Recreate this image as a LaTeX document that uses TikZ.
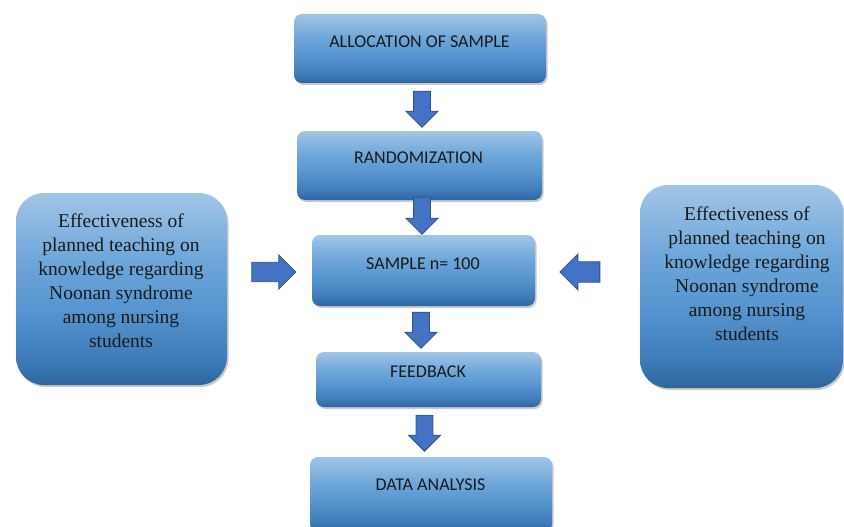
\documentclass[tikz,border=0pt]{standalone}
\usepackage{fontspec}
\setmainfont{Liberation Serif}
\newfontfamily\boxfont{Carlito}
\usetikzlibrary{shapes.arrows,shadows,positioning}
\definecolor{gA}{HTML}{A2C5E7}
\definecolor{gB}{HTML}{6FA7DA}
\definecolor{gC}{HTML}{5795D0}
\definecolor{gD}{HTML}{3F7CB9}
\definecolor{gE}{HTML}{2D659E}
\definecolor{arrfill}{HTML}{4472C4}
\definecolor{arrline}{HTML}{2F528F}
\definecolor{txt}{HTML}{1A1A1A}
\pgfdeclareverticalshading{boxshade}{100bp}{color(0bp)=(gE); color(25bp)=(gE); color(32bp)=(gD); color(45bp)=(gC); color(58bp)=(gB); color(75bp)=(gA); color(100bp)=(gA)}
\tikzset{
  gbox/.style={rounded corners=8pt, shading=boxshade,
    draw=none, drop shadow={shadow xshift=1.5pt, shadow yshift=-2pt, opacity=0.35, fill=black!60}},
  sidebox/.style={gbox, rounded corners=28pt},
  boxtext/.style={font=\boxfont\fontsize{18}{21}\selectfont, text=txt, inner sep=0pt},
  sidetext/.style={font=\fontsize{19.5}{24}\selectfont, text=txt, align=center, inner sep=0pt},
  blockarrow/.style={single arrow, fill=arrfill, draw=arrline, line width=0.8pt,
    single arrow tip angle=90, inner sep=0pt, minimum width=#1},
  anchorbox/.style={pos=0, anchor=north west, inner sep=0pt},
}
\begin{document}
\begin{tikzpicture}[x=1pt,y=-1pt]
\useasboundingbox (0,0) rectangle (844,527);
% boxes
\path[gbox] (294,14) rectangle (546,83) node[anchorbox, minimum width=252pt, minimum height=69pt] (b1) {};
\path[gbox] (297,131) rectangle (542,200) node[anchorbox, minimum width=245pt, minimum height=69pt] (b2) {};
\path[gbox] (312,235) rectangle (535,306) node[anchorbox, minimum width=223pt, minimum height=71pt] (b3) {};
\path[gbox] (316,352) rectangle (541,407) node[anchorbox, minimum width=225pt, minimum height=55pt] (b4) {};
\path[gbox] (310,457) rectangle (552,532) node[anchorbox, minimum width=242pt, minimum height=75pt] (b5) {};
\path[sidebox] (16,193) rectangle (227,385) node[anchorbox, minimum width=211pt, minimum height=192pt] (L) {};
\path[sidebox] (640,185) rectangle (843,388) node[anchorbox, minimum width=203pt, minimum height=203pt] (R) {};
% texts
\node[boxtext] (t1) at (419.5,42) {ALLOCATION OF SAMPLE};
\node[boxtext] (t2) at (418.5,158) {RANDOMIZATION};
\node[boxtext] (t3) at (423,264) {SAMPLE n= 100};
\node[boxtext] (t4) at (428,372) {FEEDBACK};
\node[boxtext] (t5) at (430.5,485) {DATA ANALYSIS};
\node[sidetext] (tl) at (121,281) {Effectiveness of\\planned teaching on\\knowledge regarding\\Noonan syndrome\\among nursing\\students};
\node[sidetext] (tr) at (747,274) {Effectiveness of\\planned teaching on\\knowledge regarding\\Noonan syndrome\\among nursing\\students};
% arrows
\node[blockarrow=32pt, rotate=-90, minimum height=36pt, inner ysep=7.5pt] (a1) at (422,105) {};
\node[blockarrow=32pt, rotate=-90, minimum height=37pt, inner ysep=7.5pt] (a2) at (422,211.5) {};
\node[blockarrow=32pt, rotate=-90, minimum height=36pt, inner ysep=7.5pt] (a3) at (421,326) {};
\node[blockarrow=32pt, rotate=-90, minimum height=36pt, inner ysep=7.5pt] (a4) at (424.5,429) {};
\node[blockarrow=34pt, minimum height=44pt, inner ysep=9pt] (ar) at (269,272) {};
\node[blockarrow=36pt, rotate=180, minimum height=40pt, inner ysep=9pt] (al) at (585,272) {};
\end{tikzpicture}
\end{document}
